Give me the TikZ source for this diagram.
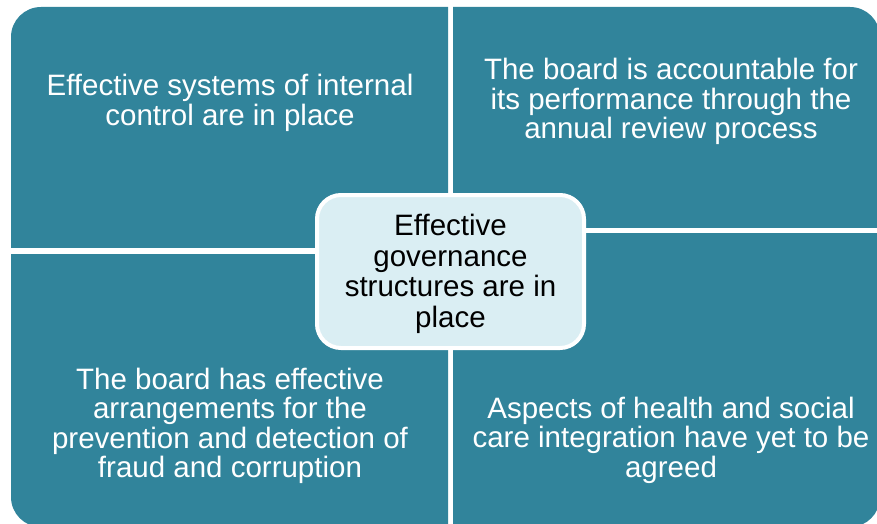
\documentclass[tikz,border=0pt]{standalone}
\usepackage{fontspec}
\setmainfont{Liberation Sans}

\definecolor{quadteal}{RGB}{49,132,155}
\definecolor{hubblue}{RGB}{218,238,243}

\tikzset{
  quad/.style={fill=quadteal, rounded corners=30pt},
  quadtext/.style={text=white, align=center, inner sep=0pt,
    font=\fontsize{29.5pt}{29.5pt}\selectfont},
  hub/.style={fill=hubblue, draw=white, line width=4pt, rounded corners=24pt,
    minimum width=267pt, minimum height=153pt, align=center, inner sep=0pt,
    font=\fontsize{29.5pt}{30.5pt}\selectfont}
}

\begin{document}
\begin{tikzpicture}[x=1pt, y=-1pt]
  \clip (0,0) rectangle (877,524);

  % four quadrants, each cut from one rounded block
  \foreach \xa/\ya/\xb/\yb in {11/7/448/247, 453/7/880/227, 11/254/448/527, 453/233/880/527} {
    \begin{scope}
      \clip (\xa,\ya) rectangle (\xb,\yb);
      \fill[quad] (11,7) rectangle (880,527);
    \end{scope}
  }

  \node[quadtext] (control) at (230,103) {Effective systems of internal\\control are in place};
  \node[quadtext] (review) at (671,101.5) {The board is accountable for\\its performance through the\\annual review process};
  \node[quadtext] (fraud) at (230,426) {The board has effective\\arrangements for the\\prevention and detection of\\fraud and corruption};
  \node[quadtext] (integration) at (671,440) {Aspects of health and social\\care integration have yet to be\\agreed};

  % centre box
  \node[hub] (governance) at (450.5,271.5) {};
  \node[align=center, inner sep=0pt, font=\fontsize{29.5pt}{30.5pt}\selectfont] (hubtext) at (governance.center) [yshift=-2.5pt] {Effective\\governance\\structures are in\\place};

\end{tikzpicture}
\end{document}
